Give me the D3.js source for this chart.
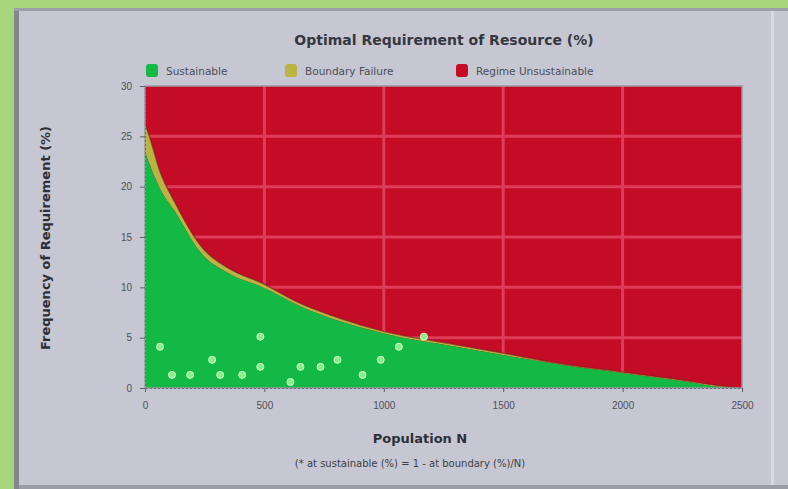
<!DOCTYPE html>
<html>
<head>
<meta charset="utf-8">
<script src="https://cdn.jsdelivr.net/npm/d3@7"></script>
<style>
  body { margin: 0; background: #c6c7d3; }
  svg { display: block; font-family: "DejaVu Sans", sans-serif; }
  .tick text { fill: #4e4f57; font-size: 10px; }
</style>
</head>
<body>
<svg id="chart" width="788" height="489"></svg>
<script>
// boundary between regions (x = population, y = requirement)
const boundaryX = [0, 21, 63, 126, 231, 357, 483, 651, 819, 987, 1302, 1491, 1743, 1995, 2247, 2415, 2500];
const sustainTop = [23.5, 22.1, 19.8, 17.5, 13.5, 11.3, 10.1, 8.1, 6.6, 5.5, 4.1, 3.3, 2.3, 1.5, 0.7, 0.1, 0];
const boundaryTop = [26.3, 24.8, 21.5, 18.4, 14.2, 11.8, 10.5, 8.4, 6.9, 5.7, 4.3, 3.5, 2.4, 1.6, 0.8, 0.2, 0];

// scattered sample points inside sustainable region
const sampleX = [63, 281, 113, 189, 315, 407, 483, 483, 609, 651, 735, 806, 911, 987, 1063, 1168];
const sampleY = [4.1, 2.8, 1.3, 1.3, 1.3, 1.3, 5.1, 2.1, 0.6, 2.1, 2.1, 2.8, 1.3, 2.8, 4.1, 5.1];

const xTicks = [0, 500, 1000, 1500, 2000, 2500];
const yTicks = [0, 5, 10, 15, 20, 25, 30];

const legendNames = ["Sustainable", "Boundary Failure", "Regime Unsustainable"];
const legendColors = ["#14b845", "#b9b445", "#c40c26"];

let svg = d3.select("#chart");
let margin = { top: 86, right: 46, bottom: 101, left: 145 };
const plotW = 788 - margin.left - margin.right;
const plotH = 489 - margin.top - margin.bottom;

// frame
svg.append("rect").attr("x", 0).attr("y", 0).attr("width", 788).attr("height", 8).attr("fill", "#a8d47e");
svg.append("rect").attr("x", 0).attr("y", 0).attr("width", 14).attr("height", 489).attr("fill", "#a8d47e");
svg.append("rect").attr("x", 14).attr("y", 8).attr("width", 5).attr("height", 481).attr("fill", "#84868e");
svg.append("rect").attr("x", 14).attr("y", 8).attr("width", 774).attr("height", 3).attr("fill", "#9c9ea8");
svg.append("rect").attr("x", 771).attr("y", 11).attr("width", 3).attr("height", 478).attr("fill", "#d8d9e3");
svg.append("rect").attr("x", 19).attr("y", 485).attr("width", 769).attr("height", 4).attr("fill", "#9a9ca6");

const x = d3.scaleLinear().domain([0, 2500]).range([0, plotW]);
const y = d3.scaleLinear().domain([0, 30]).range([plotH, 0]);

const g = svg.append("g").attr("transform", "translate(" + margin.left + "," + margin.top + ")");

// unsustainable background
g.append("rect").attr("width", plotW).attr("height", plotH).attr("fill", legendColors[2]);

const pts = boundaryX.map((d, i) => ({ x: d, lo: sustainTop[i], hi: boundaryTop[i] }));

// gridlines
g.append("g").selectAll("line").data(xTicks.slice(1, -1)).enter().append("line")
  .attr("x1", d => x(d)).attr("x2", d => x(d)).attr("y1", 0).attr("y2", plotH)
  .attr("stroke", "#de3c58").attr("stroke-width", 3);
g.append("g").selectAll("line").data(yTicks.slice(1, -1)).enter().append("line")
  .attr("x1", 0).attr("x2", plotW).attr("y1", d => y(d)).attr("y2", d => y(d))
  .attr("stroke", "#de3c58").attr("stroke-width", 3);

// boundary band
g.append("path").datum(pts)
  .attr("fill", legendColors[1])
  .attr("d", d3.area().curve(d3.curveMonotoneX).x(d => x(d.x)).y0(d => y(d.lo)).y1(d => y(d.hi)));

// sustainable region
g.append("path").datum(pts)
  .attr("fill", legendColors[0])
  .attr("d", d3.area().curve(d3.curveMonotoneX).x(d => x(d.x)).y0(plotH).y1(d => y(d.lo)));
g.append("path").datum(pts)
  .attr("fill", "none").attr("stroke", "#7a1c1c").attr("stroke-width", 1.5).attr("opacity", 0.6)
  .attr("d", d3.line().curve(d3.curveMonotoneX).x(d => x(d.x)).y(d => y(d.hi)));

// samples
g.append("g").selectAll("circle").data(sampleX).enter().append("circle")
  .attr("cx", d => x(d)).attr("cy", (d, i) => y(sampleY[i])).attr("r", 3.5)
  .attr("fill", "#86f08a").attr("stroke", "#d6ffd0").attr("stroke-width", 1);

// plot frame
g.append("rect").attr("width", plotW).attr("height", plotH)
  .attr("fill", "none").attr("stroke", "#9a9aa4").attr("stroke-width", 1.5);

// axes
const xAxis = g.append("g").attr("transform", "translate(0," + plotH + ")")
  .call(d3.axisBottom(x).tickValues(xTicks).tickFormat(d3.format("d")).tickSize(4).tickPadding(10));
const yAxis = g.append("g")
  .call(d3.axisLeft(y).tickValues(yTicks).tickSize(5).tickPadding(8));
[xAxis, yAxis].forEach(a => {
  a.select(".domain").attr("stroke", "#6c6e78").attr("stroke-dasharray", "2,2");
  a.selectAll(".tick line").attr("stroke", "#5c5e66");
});

// title
svg.append("text").attr("x", 444).attr("y", 45).attr("text-anchor", "middle")
  .attr("font-size", 14).attr("font-weight", "bold").attr("fill", "#36373e")
  .text("Optimal Requirement of Resource (%)");

// legend
const legendX = [146, 285, 456];
const legend = svg.append("g").selectAll("g").data(legendNames).enter().append("g")
  .attr("transform", (d, i) => "translate(" + legendX[i] + ",64)");
legend.append("rect").attr("width", 12).attr("height", 13).attr("rx", 3)
  .attr("fill", (d, i) => legendColors[i]);
legend.append("text").attr("x", 20).attr("y", 11).attr("font-size", 10.5).attr("fill", "#4c4d55")
  .text(d => d);

// axis titles
svg.append("text").attr("transform", "translate(50,238) rotate(-90)").attr("text-anchor", "middle")
  .attr("font-size", 13).attr("font-weight", "bold").attr("fill", "#2e2f36")
  .text("Frequency of Requirement (%)");
svg.append("text").attr("x", 420).attr("y", 443).attr("text-anchor", "middle")
  .attr("font-size", 13).attr("font-weight", "bold").attr("fill", "#2e2f36")
  .text("Population N");
svg.append("text").attr("x", 410).attr("y", 467).attr("text-anchor", "middle")
  .attr("font-size", 10).attr("fill", "#3c3d44")
  .text("(* at sustainable (%) = 1 - at boundary (%)/N)");
</script>
</body>
</html>
